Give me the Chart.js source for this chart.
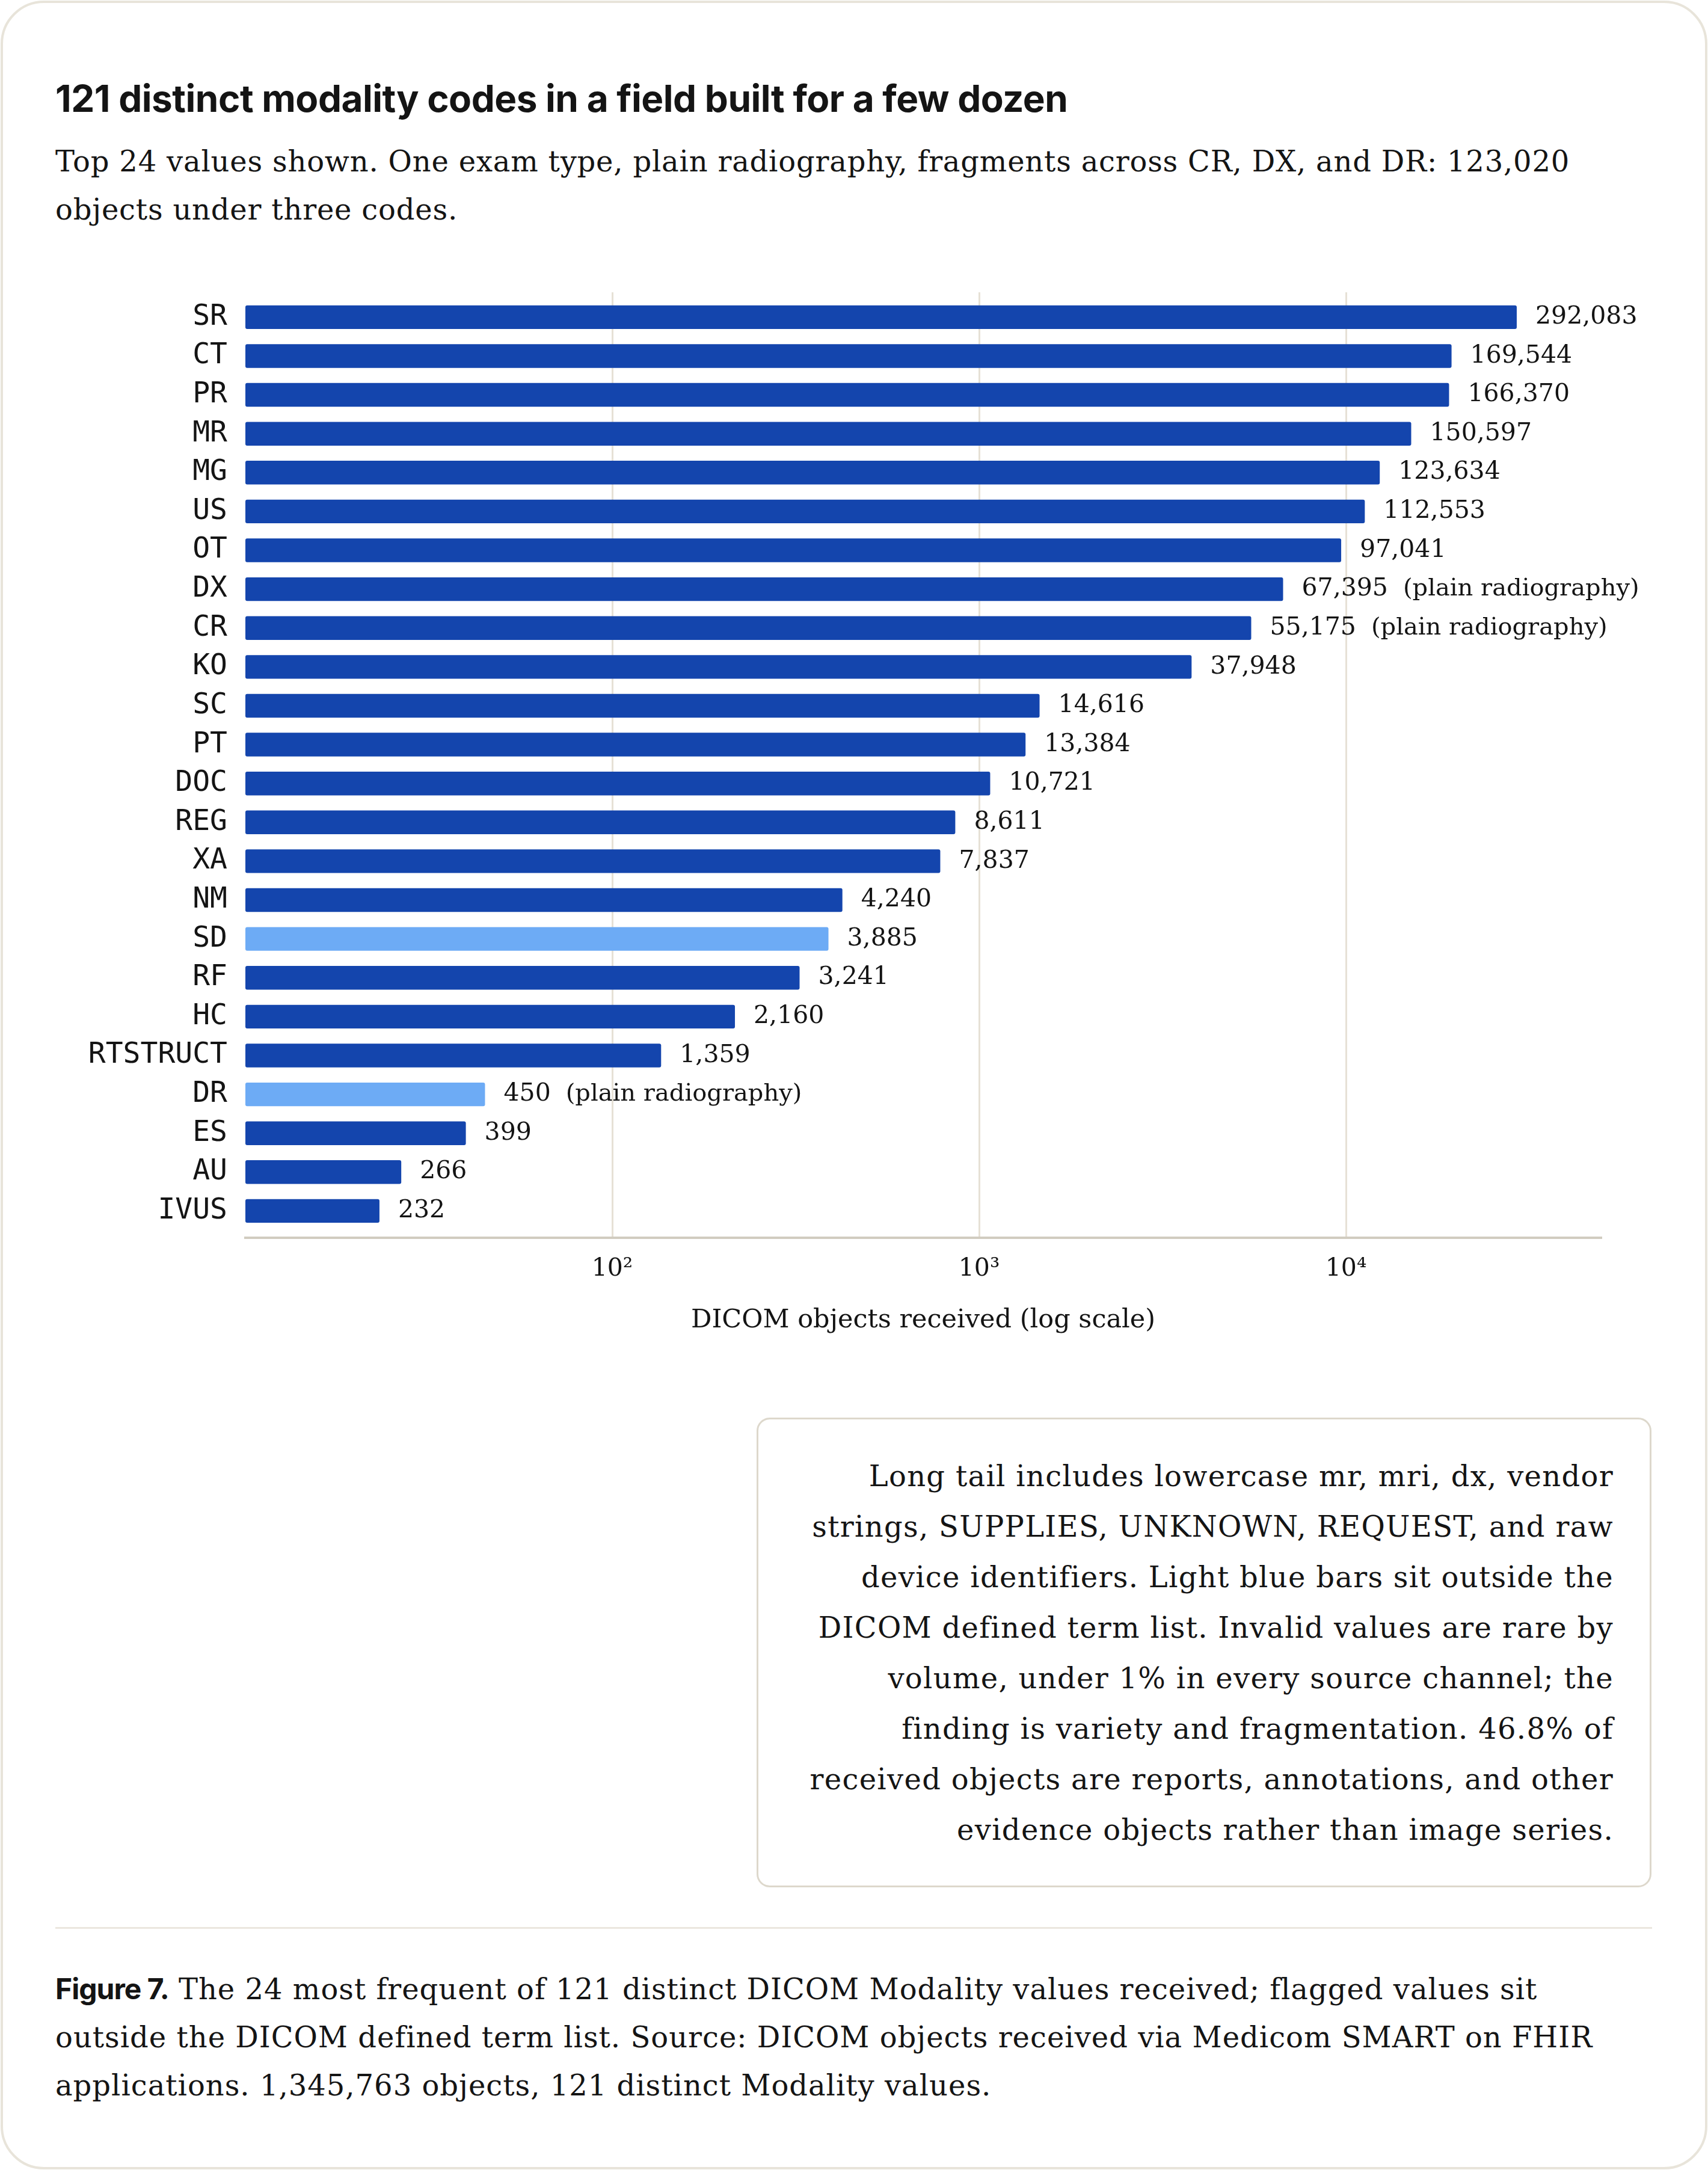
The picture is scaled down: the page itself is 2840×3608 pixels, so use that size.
<!DOCTYPE html>
<html>
<head>
<meta charset="utf-8">
<script src="https://cdn.jsdelivr.net/npm/chart.js@4.4.1/dist/chart.umd.min.js"></script>
<style>
  html, body { margin: 0; padding: 0; background: #fff; }
  body { width: 2840px; height: 3608px; position: relative; overflow: hidden; color: #141414; }
  .card {
    position: absolute; left: 1px; top: 1px; width: 2838px; height: 3606px;
    box-sizing: border-box; border: 4px solid #e8e4da; border-radius: 72px; background: #fff;
  }
  .title {
    position: absolute; left: 92px; top: 133px; white-space: nowrap;
    font-family: Inter, sans-serif; font-weight: 700; font-size: 62px; line-height: 62px;
    letter-spacing: -0.5px;
  }
  .sub {
    position: absolute; left: 92px; top: 228px; white-space: nowrap;
    font-family: "DejaVu Serif", serif; font-size: 48px; line-height: 80px; letter-spacing: 0.8px;
  }
  #chartWrap { position: absolute; left: 0; top: 400px; width: 2840px; height: 1860px; }
  .note {
    position: absolute; left: 1258px; top: 2357px; width: 1488px; height: 781px;
    box-sizing: border-box; border: 3px solid #ddd8cc; border-radius: 22px;
    padding: 52px 60px 0 0; text-align: right; white-space: nowrap;
    font-family: "DejaVu Serif", serif; font-size: 48px; line-height: 84px; letter-spacing: 1.3px;
  }
  .rule { position: absolute; left: 92px; top: 3204px; width: 2655px; height: 3px; background: #ebe7df; }
  .caption {
    position: absolute; left: 92px; top: 3267px; white-space: nowrap;
    font-family: "DejaVu Serif", serif; font-size: 48px; line-height: 80px; letter-spacing: 1px;
  }
  .caption b { font-family: Inter, sans-serif; font-weight: 700; letter-spacing: -1px; }
</style>
</head>
<body>
<div class="card"></div>
<div class="title">121 distinct modality codes in a field built for a few dozen</div>
<div class="sub">Top 24 values shown. One exam type, plain radiography, fragments across CR, DX, and DR: 123,020<br>objects under three codes.</div>
<div id="chartWrap"><canvas id="chartModality"></canvas></div>
<div class="note">Long tail includes lowercase mr, mri, dx, vendor<br>strings, SUPPLIES, UNKNOWN, REQUEST, and raw<br>device identifiers. Light blue bars sit outside the<br>DICOM defined term list. Invalid values are rare by<br>volume, under 1% in every source channel; the<br>finding is variety and fragmentation. 46.8% of<br>received objects are reports, annotations, and other<br>evidence objects rather than image series.</div>
<div class="rule"></div>
<div class="caption"><b>Figure 7.</b> The 24 most frequent of 121 distinct DICOM Modality values received; flagged values sit<br>outside the DICOM defined term list. Source: DICOM objects received via Medicom SMART on FHIR<br>applications. 1,345,763 objects, 121 distinct Modality values.</div>

<script>
// ================= DATI =================

const modalita = ["SR", "CT", "PR", "MR", "MG", "US", "OT", "DX", "CR", "KO", "SC", "PT",
    "DOC", "REG", "XA", "NM", "SD", "RF", "HC", "RTSTRUCT", "DR", "ES", "AU", "IVUS"];

// lunghezza delle barre (CT e PR sono piu' lunghe del numero stampato)
const oggetti = [292083, 194000, 191000, 150597, 123634, 112553, 97041, 67395, 55175, 37948, 14616, 13384,
    10721, 8611, 7837, 4240, 3885, 3241, 2160, 1359, 450, 399, 266, 232];

// numeri stampati accanto alle barre
const etichette = [292083, 169544, 166370, 150597, 123634, 112553, 97041, 67395, 55175, 37948, 14616, 13384,
    10721, 8611, 7837, 4240, 3885, 3241, 2160, 1359, 450, 399, 266, 232];

// fuori dalla lista dei termini DICOM
const fuoriLista = ["SD", "DR"];

const note = { DX: "(plain radiography)", CR: "(plain radiography)", DR: "(plain radiography)" };

const tickValori = [1000, 10000, 100000];
const tickEtichette = ["10²", "10³", "10⁴"];

// ================= STILE =================

const BLU = "#1445ad";
const BLU_CHIARO = "#6dabf5";
const TESTO = "#141414";
const SERIF = "'DejaVu Serif', serif";

// ================= ETICHETTE VALORI =================

const etichetteValori = {
    id: "etichetteValori",
    afterDatasetsDraw(chart) {
        const ctx = chart.ctx;
        const meta = chart.getDatasetMeta(0);
        ctx.save();
        ctx.fillStyle = TESTO;
        ctx.textBaseline = "middle";
        ctx.textAlign = "left";
        meta.data.forEach((bar, i) => {
            const testo = etichette[i].toLocaleString("en-US");
            ctx.font = "41px " + SERIF;
            const x = bar.x + 31;
            ctx.fillText(testo, x, bar.y);
            const n = note[modalita[i]];
            if (n) {
                const w = ctx.measureText(testo).width;
                ctx.font = "40px " + SERIF;
                ctx.fillText(n, x + w + 25, bar.y);
            }
        });
        ctx.restore();
    }
};

// ================= GRAFICO =================

const ctxModalita = document.getElementById("chartModality").getContext("2d");

new Chart(ctxModalita, {
    type: "bar",
    data: {
        datasets: [{
            data: oggetti.map((v, i) => ({ x: v, y: i })),
            backgroundColor: modalita.map(m => fuoriLista.includes(m) ? BLU_CHIARO : BLU),
            borderRadius: 3,
            borderSkipped: false,
            barPercentage: 0.61,
            categoryPercentage: 1
        }]
    },
    options: {
        indexAxis: "y",
        responsive: true,
        maintainAspectRatio: false,
        animation: false,
        layout: { padding: { top: 86, right: 178, left: 0, bottom: 0 } },
        plugins: {
            legend: { display: false },
            tooltip: { enabled: false }
        },
        scales: {
            y: {
                type: "linear",
                reverse: true,
                offset: false,
                bounds: "data",
                min: -0.64,
                max: 23.69,
                afterFit: s => { s.width = 408; },
                afterBuildTicks: s => { s.ticks = modalita.map((m, i) => ({ value: i })); },
                grid: { display: false, drawTicks: false, offset: false },
                border: { display: false },
                ticks: {
                    autoSkip: false,
                    padding: 30,
                    color: TESTO,
                    font: { family: "'DejaVu Sans Mono', monospace", size: 48 },
                    callback: v => modalita[v]
                }
            },
            x: {
                type: "logarithmic",
                position: "bottom",
                min: 100,
                max: 495500,
                afterFit: s => { s.height = 202; },
                afterBuildTicks: s => { s.ticks = tickValori.map(v => ({ value: v })); },
                grid: { color: "#e6e1d6", lineWidth: 3, drawTicks: false },
                border: { display: true, color: "#d1ccc0", width: 4 },
                ticks: {
                    padding: 28,
                    color: TESTO,
                    font: { family: SERIF, size: 41 },
                    callback: (v, i) => tickEtichette[i]
                },
                title: {
                    display: true,
                    text: "DICOM objects received (log scale)",
                    color: TESTO,
                    font: { family: SERIF, size: 43 },
                    padding: { top: 0, bottom: 38 }
                }
            }
        }
    },
    plugins: [etichetteValori]
});
</script>
</body>
</html>
